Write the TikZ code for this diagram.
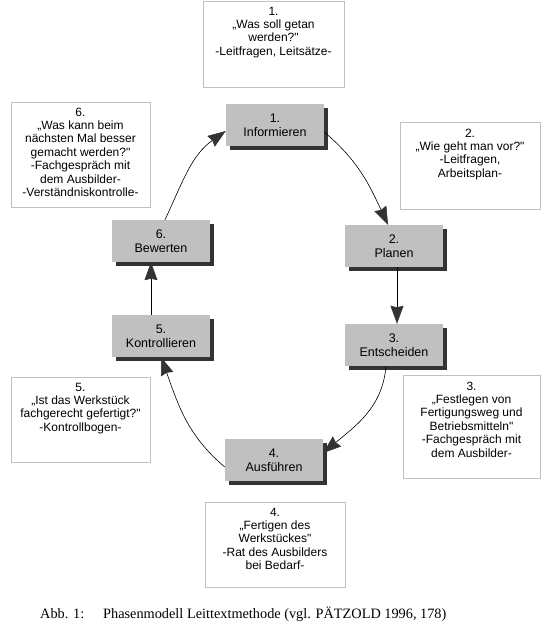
\documentclass[tikz,border=0pt]{standalone}
\usepackage{fontspec}
\setmainfont{Liberation Sans}
\newfontfamily\capfont{Liberation Serif}
\usetikzlibrary{positioning}
\usetikzlibrary{arrows.meta}
\usetikzlibrary{shadows}

\definecolor{boxgray}{HTML}{C0C0C0}
\definecolor{tipgray}{HTML}{333333}

\begin{document}
\begin{tikzpicture}[
      x=1pt, y=1pt,
      phase/.style={fill=boxgray, minimum width=98pt, minimum height=42pt, inner sep=0pt,
        align=center, font=\fontsize{12.5}{14}\selectfont,
        drop shadow={shadow xshift=4pt, shadow yshift=-4pt, fill=black!80, opacity=1}},
      note/.style 2 args={draw=boxgray, line width=0.8pt, minimum width=#1, minimum height=#2},
      notetxt/.style={align=center, inner sep=0pt, font=\fontsize{12}{13.4}\selectfont},
      flow/.style={line width=0.6pt,
        arrows={-Stealth[length=18pt, width=13pt, inset=1.5pt, fill=tipgray, color=tipgray]}}]
      \useasboundingbox (0,0) rectangle (544,636);
      % the six phases of the cycle
      \node[phase] (p1) at (275,511) {1.\\Informieren};
      \node[phase] (p2) at (394,390) {2.\\Planen};
      \node[phase] (p3) at (394,291) {3.\\Entscheiden};
      \node[phase] (p4) at (274,176) {4.\\Ausführen};
      \node[phase] (p5) at (161,300) {5.\\Kontrollieren};
      \node[phase] (p6) at (161,395) {6.\\Bewerten};
      % guiding questions, one box per phase
      \node[note={141pt}{86pt}] (n1) at (273.5,592) {};
      \node[note={140pt}{87pt}] (n2) at (470,470.5) {};
      \node[note={137pt}{103pt}] (n3) at (471.5,209.5) {};
      \node[note={140pt}{85pt}] (n4) at (275,91.5) {};
      \node[note={139pt}{85pt}] (n5) at (80.5,216.5) {};
      \node[note={139pt}{105pt}] (n6) at (80.5,481.5) {};
      \node[notetxt, below=6pt of n1.north] (n1t) {1.\\„Was soll getan\\werden?\textquotedbl\\-Leitfragen, Leitsätze-};
      \node[notetxt, below=7pt of n2.north] (n2t) {2.\\„Wie geht man vor?\textquotedbl\\-Leitfragen,\\Arbeitsplan-};
      \node[notetxt, below=7pt of n3.north] (n3t) {3.\\„Festlegen von\\Fertigungsweg und\\Betriebsmitteln\textquotedbl\\-Fachgespräch mit\\dem Ausbilder-};
      \node[notetxt, below=6pt of n4.north] (n4t) {4.\\„Fertigen des\\Werkstückes\textquotedbl\\-Rat des Ausbilders\\bei Bedarf-};
      \node[notetxt, below=6pt of n5.north] (n5t) {5.\\„Ist das Werkstück\\fachgerecht gefertigt?\textquotedbl\\-Kontrollbogen-};
      \node[notetxt, below=6pt of n6.north] (n6t) {6.\\„Was kann beim\\nächsten Mal besser\\gemacht werden?\textquotedbl\\-Fachgespräch mit\\dem Ausbilder-\\-Verständniskontrolle-};
      % caption
      \node[anchor=base west, inner sep=0pt, font=\capfont\fontsize{14.3}{16}\selectfont] (abb) at (40,17) {Abb. 1:};
      \node[anchor=base west, inner sep=0pt, font=\capfont\fontsize{14.3}{16}\selectfont] (cap) at (103,17) {Phasenmodell Leittextmethode (vgl. PÄTZOLD 1996, 178)};
      % cycle
      \draw[flow] ([yshift=-7pt]p1.east) to[out=-40, in=115] ([xshift=-6pt]p2.north);
      \draw[flow] ([xshift=3pt]p2.south) -- ([xshift=3pt]p3.north);
      \draw[flow] ([xshift=-8pt]p3.south) to[out=-95, in=40] ([yshift=7pt]p4.east);
      \draw[flow] ([yshift=-7pt]p4.west) to[out=140, in=-70] (p5.south);
      \draw[flow] ([xshift=-10pt]p5.north) -- ([xshift=-10pt]p6.south);
      \draw[flow] ([xshift=4pt]p6.north) to[out=65, in=-145] ([yshift=-6pt]p1.west);
    \end{tikzpicture}
\end{document}
